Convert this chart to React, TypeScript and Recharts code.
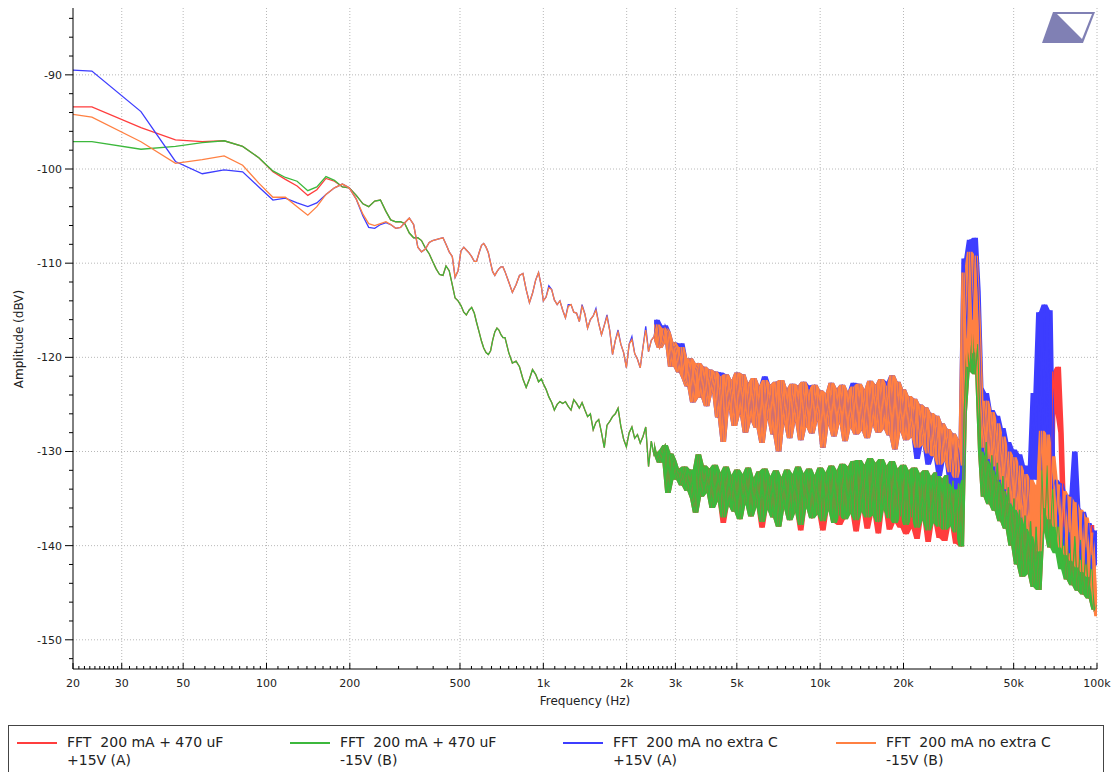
import { Area, CartesianGrid, ComposedChart, Line, XAxis, YAxis } from "recharts";

if (typeof document !== "undefined") document.body.style.margin = "0";

const FONT = "'DejaVu Sans', Verdana, sans-serif";
const COLORS = { red: "#ff3d3d", green: "#3cb83c", blue: "#3d3dff", orange: "#ff8042" };

// FFT bins (Hz): real bins up to ~1 kHz, then thinned log-spaced points to 100 kHz
const FREQ = [
  20, 23.4, 35.2, 46.9, 58.6, 70.3, 82, 93.8, 105.5, 117,
  129, 141, 152, 164, 176, 188, 199, 211, 223, 234,
  246, 258, 270, 281, 293, 305, 316, 328, 340, 352,
  363, 375, 387, 398, 410, 422, 434, 445, 457, 469,
  480, 492, 504, 516, 527, 539, 551, 563, 574, 586,
  598, 609, 621, 633, 645, 656, 668, 680, 691, 703,
  715, 727, 750, 773, 797, 820, 844, 867, 891, 914,
  938, 961, 984,
  1000, 1023, 1047, 1072, 1096, 1122, 1148, 1175, 1202, 1230,
  1259, 1288, 1318, 1349, 1380, 1413, 1445, 1479, 1514, 1549,
  1585, 1622, 1660, 1698, 1738, 1778, 1820, 1862, 1905, 1950,
  1995, 2042, 2089, 2138, 2188, 2239, 2291, 2344, 2399, 2455,
  2512, 2570, 2630, 2692, 2754, 2818, 2884, 2951, 3020, 3090,
  3162, 3236, 3311, 3388, 3467, 3548, 3631, 3715, 3802, 3890,
  3981, 4074, 4169, 4266, 4365, 4467, 4571, 4677, 4786, 4898,
  5012, 5129, 5248, 5370, 5495, 5623, 5754, 5888, 6026, 6166,
  6310, 6457, 6607, 6761, 6918, 7079, 7244, 7413, 7586, 7762,
  7943, 8128, 8318, 8511, 8710, 8913, 9120, 9333, 9550, 9772,
  10000, 10230, 10470, 10720, 10960, 11220, 11480, 11750, 12020, 12300,
  12590, 12880, 13180, 13490, 13800, 14130, 14450, 14790, 15140, 15490,
  15850, 16220, 16600, 16980, 17380, 17780, 18200, 18620, 19050, 19500,
  19950, 20420, 20890, 21380, 21880, 22390, 22910, 23440, 23990, 24550,
  25120, 25700, 26300, 26920, 27540, 28180, 28840, 29510, 30200, 30900,
  31620, 32360, 33110, 33880, 34670, 35480, 36310, 37150, 38020, 38900,
  39810, 40740, 41690, 42660, 43650, 44670, 45710, 46770, 47860, 48980,
  50120, 51290, 52480, 53700, 54950, 56230, 57540, 58880, 60260, 61660,
  63100, 64570, 66070, 67610, 69180, 70790, 72440, 74130, 75860, 77620,
  79430, 81280, 83180, 85110, 87100, 89130, 91200, 93330, 95500, 97720,
  100000,
];

// FFT 200 mA + 470 uF, +15V (A)
const RED = [
  -93.4, -93.4, -95.6, -96.9, -97.1, -97.0, -97.6, -98.8, -100.3, -101.1,
  -101.8, -102.8, -102.2, -101.0, -101.3, -101.9, -102.0, -102.8, -103.7, -104.0,
  -103.4, -103.3, -104.5, -105.4, -105.6, -105.6, -105.8, -106.8, -107.3, -107.3,
  -107.6, -108.4, -109.0, -109.8, -110.6, -111.2, -111.3, -110.3, -110.8, -112.3,
  -113.7, -114.0, -114.5, -115.2, -115.5, -115.0, -114.7, -115.3, -116.3, -117.3,
  -118.3, -119.0, -119.5, -119.7, -119.3, -118.2, -117.3, -116.9, -117.1, -117.6,
  -117.9, -117.9, -119.5, -120.6, -120.4, -121.0, -122.3, -123.2, -122.3, -121.3,
  -121.8, -122.6, -122.3,
  -122.8, -123.4, -124.2, -124.8, -125.6, -125.0, -124.7, -124.9, -124.7, -125.2,
  -125.6, -124.5, -124.9, -125.4, -124.8, -125.6, -126.3, -126.0, -127.7, -126.9,
  -126.6, -128.0, -129.6, -127.2, -126.8, -126.3, -126.0, -125.4, -127.3, -128.7,
  -129.5, -128.0, -127.4, -128.6, -128.2, -129.1, -128.4, -127.4, -131.6, -128.9,
  -130.4, -130.1, -131.2, -129.8, -129.3, -134.4, -130.2, -130.9, -133.0, -131.8,
  -133.6, -131.6, -134.2, -131.9, -135.0, -136.5, -130.3, -134.8, -131.5, -134.4,
  -131.8, -136.0, -131.4, -135.3, -132.2, -137.6, -131.6, -135.8, -132.5, -136.4,
  -131.9, -137.2, -132.4, -135.6, -131.7, -136.9, -132.8, -135.9, -132.1, -138.1,
  -131.8, -136.2, -132.6, -137.0, -132.0, -138.0, -132.7, -136.1, -131.9, -137.3,
  -132.4, -136.5, -131.6, -138.4, -132.3, -136.0, -131.8, -137.1, -132.5, -136.7,
  -131.7, -138.4, -132.2, -136.3, -131.5, -137.6, -132.0, -137.8, -131.3, -137.2,
  -131.6, -136.6, -131.0, -138.5, -130.9, -136.4, -131.4, -138.2, -130.7, -136.8,
  -131.2, -138.7, -130.8, -136.2, -131.5, -138.3, -131.0, -137.6, -131.8, -138.1,
  -131.4, -138.8, -132.0, -138.2, -131.7, -139.3, -132.3, -137.3, -132.0, -139.6,
  -132.6, -137.6, -132.2, -139.2, -132.9, -139.5, -132.5, -137.9, -133.1, -139.8,
  -133.4, -140.1, -126.0, -119.0, -121.5, -117.5, -121.8, -118.6, -130.0, -134.8,
  -129.0, -135.6, -130.4, -136.3, -131.2, -137.4, -132.6, -138.2, -133.8, -140.0,
  -135.0, -142.0, -136.2, -143.3, -136.8, -143.0, -137.4, -144.4, -138.0, -144.7,
  -130.2, -138.5, -131.5, -140.2, -121.5, -126.0, -121.0, -128.0, -138.0, -143.6,
  -138.6, -144.2, -139.0, -144.8, -139.4, -145.2, -140.2, -145.6, -137.8, -146.8,
  -146.3,
];

// FFT 200 mA + 470 uF, -15V (B)
const GREEN = [
  -97.1, -97.1, -97.9, -97.6, -97.2, -97.0, -97.6, -98.8, -100.2, -100.9,
  -101.3, -102.3, -101.9, -100.8, -101.2, -101.9, -102.0, -102.8, -103.7, -104.0,
  -103.4, -103.3, -104.5, -105.4, -105.6, -105.6, -105.8, -106.8, -107.3, -107.3,
  -107.6, -108.4, -109.0, -109.8, -110.6, -111.2, -111.3, -110.3, -110.8, -112.3,
  -113.7, -114.0, -114.5, -115.2, -115.5, -115.0, -114.7, -115.3, -116.3, -117.3,
  -118.3, -119.0, -119.5, -119.7, -119.3, -118.2, -117.3, -116.9, -117.1, -117.6,
  -117.9, -117.9, -119.5, -120.6, -120.4, -121.0, -122.3, -123.2, -122.3, -121.3,
  -121.8, -122.6, -122.3,
  -122.8, -123.4, -124.2, -124.8, -125.6, -125.0, -124.7, -124.9, -124.7, -125.2,
  -125.6, -124.5, -124.9, -125.4, -124.8, -125.6, -126.3, -126.0, -127.7, -126.9,
  -126.6, -128.0, -129.6, -127.2, -126.8, -126.3, -126.0, -125.4, -127.3, -128.7,
  -129.5, -128.0, -127.4, -128.6, -128.2, -129.1, -128.4, -127.4, -131.6, -128.9,
  -130.4, -130.1, -131.2, -129.8, -129.3, -134.4, -130.2, -130.9, -133.0, -131.8,
  -133.6, -131.6, -134.2, -131.9, -135.0, -136.5, -130.3, -134.8, -131.5, -134.4,
  -131.8, -136.0, -131.4, -135.3, -132.2, -137.0, -131.6, -135.8, -132.5, -136.4,
  -131.9, -137.2, -132.4, -135.6, -131.7, -136.9, -132.8, -135.9, -132.1, -137.5,
  -131.8, -136.2, -132.6, -137.0, -132.0, -138.0, -132.7, -136.1, -131.9, -137.3,
  -132.4, -136.5, -131.6, -137.8, -132.3, -136.0, -131.8, -137.1, -132.5, -136.7,
  -131.7, -137.4, -132.2, -136.3, -131.5, -137.6, -132.0, -136.8, -131.3, -137.2,
  -131.6, -136.6, -131.0, -137.3, -130.9, -136.4, -131.4, -137.0, -130.7, -136.8,
  -131.2, -137.5, -130.8, -136.2, -131.5, -137.1, -131.0, -137.6, -131.8, -136.9,
  -131.4, -137.8, -132.0, -137.0, -131.7, -138.1, -132.3, -137.3, -132.0, -138.4,
  -132.6, -137.6, -132.2, -138.0, -132.9, -138.3, -132.5, -137.9, -133.1, -138.6,
  -133.4, -140.1, -126.0, -119.0, -121.5, -117.5, -121.8, -118.6, -130.0, -134.8,
  -129.0, -135.6, -130.4, -136.3, -131.2, -137.4, -132.6, -138.2, -133.8, -140.0,
  -135.0, -142.0, -136.2, -143.3, -136.8, -143.0, -137.4, -144.4, -138.0, -144.7,
  -130.2, -138.5, -131.5, -140.2, -133.0, -140.8, -136.8, -142.5, -138.0, -143.6,
  -138.6, -144.2, -139.0, -144.8, -139.4, -145.2, -140.2, -145.6, -141.0, -146.8,
  -146.3,
];

// FFT 200 mA no extra C, +15V (A)
const BLUE = [
  -89.5, -89.6, -93.9, -99.2, -100.5, -100.1, -100.3, -101.9, -103.3, -103.1,
  -103.6, -104.0, -103.6, -102.7, -102.0, -101.6, -102.0, -103.2, -105.0, -106.2,
  -106.3, -105.9, -105.7, -105.9, -106.3, -106.2, -105.7, -105.2, -105.9, -108.3,
  -108.8, -108.5, -107.8, -107.6, -107.5, -107.4, -107.3, -108.0, -108.8, -109.3,
  -111.5, -110.8, -108.7, -108.3, -108.6, -108.9, -109.3, -109.8, -109.8, -108.9,
  -108.1, -107.9, -108.3, -108.9, -110.0, -110.9, -111.3, -110.9, -110.6, -110.4,
  -110.4, -110.9, -112.0, -113.1, -112.3, -111.3, -111.1, -112.8, -114.2, -113.2,
  -111.8, -111.0, -112.5,
  -114.0, -113.6, -112.4, -112.8, -113.9, -114.4, -114.0, -115.0, -115.8, -114.4,
  -114.4, -115.2, -115.3, -116.2, -114.4, -115.4, -116.9, -116.0, -115.6, -114.8,
  -116.4, -117.6, -116.6, -115.5, -117.2, -119.7, -118.2, -117.1, -118.6, -119.5,
  -121.1, -118.6, -117.8, -119.6, -120.2, -121.1, -118.9, -116.7, -119.4, -118.2,
  -117.8, -116.0, -119.0, -118.5, -116.6, -117.3, -121.0, -118.4, -119.2, -121.6,
  -118.5, -122.3, -123.1, -120.1, -124.8, -121.4, -120.6, -124.3, -121.0, -125.2,
  -121.3, -123.8, -121.5, -126.4, -121.6, -129.0, -121.8, -125.6, -122.4, -127.3,
  -121.6, -126.1, -121.8, -128.0, -122.7, -126.8, -122.2, -127.5, -123.0, -129.1,
  -122.0, -126.6, -122.9, -128.2, -122.6, -130.0, -122.4, -127.1, -123.3, -128.6,
  -122.8, -126.9, -123.0, -128.8, -122.6, -127.4, -123.0, -128.1, -122.9, -126.8,
  -123.5, -129.6, -123.8, -127.2, -122.7, -128.4, -123.3, -127.0, -122.9, -128.9,
  -123.6, -127.5, -122.7, -128.2, -122.8, -127.8, -123.4, -128.6, -122.5, -127.3,
  -122.9, -128.0, -122.3, -127.6, -122.6, -128.3, -121.9, -129.8, -122.6, -127.9,
  -123.4, -128.8, -124.1, -128.5, -124.4, -130.8, -125.0, -129.3, -125.3, -131.4,
  -125.9, -130.5, -126.2, -132.6, -127.0, -131.0, -127.6, -133.4, -128.1, -134.0,
  -128.7, -133.0, -109.5, -118.0, -107.5, -116.0, -107.3, -113.0, -123.2, -130.0,
  -123.8, -131.0, -125.6, -132.0, -126.2, -133.2, -127.5, -134.2, -129.0, -135.5,
  -129.8, -136.2, -130.3, -137.0, -131.5, -138.0, -132.0, -123.8, -133.0, -115.2,
  -132.0, -114.4, -130.0, -115.0, -134.0, -133.0, -138.0, -133.4, -140.0, -134.6,
  -140.8, -135.0, -130.0, -136.0, -141.5, -136.4, -142.0, -137.6, -142.5, -138.4,
  -142.0,
];

// FFT 200 mA no extra C, -15V (B)
const ORANGE = [
  -94.2, -94.5, -97.1, -99.4, -99.0, -98.6, -99.6, -101.5, -103.0, -103.0,
  -104.0, -104.9, -104.0, -102.7, -102.0, -101.6, -102.0, -103.2, -104.8, -105.8,
  -106.0, -105.8, -105.6, -105.9, -106.3, -106.2, -105.7, -105.2, -105.9, -108.3,
  -108.8, -108.5, -107.8, -107.6, -107.5, -107.4, -107.3, -108.0, -108.8, -109.3,
  -111.5, -110.8, -108.7, -108.3, -108.6, -108.9, -109.3, -109.8, -109.8, -108.9,
  -108.1, -107.9, -108.3, -108.9, -110.0, -110.9, -111.3, -110.9, -110.6, -110.4,
  -110.4, -110.9, -112.0, -113.1, -112.3, -111.3, -111.1, -112.8, -114.2, -113.2,
  -111.8, -111.0, -112.5,
  -114.0, -113.6, -112.6, -112.8, -113.9, -114.4, -114.0, -115.0, -115.8, -114.6,
  -114.4, -115.2, -115.3, -116.2, -114.6, -115.4, -116.9, -116.0, -115.6, -115.0,
  -116.4, -117.6, -116.6, -115.7, -117.2, -119.7, -118.2, -117.3, -118.6, -119.5,
  -121.1, -118.6, -118.1, -119.6, -120.2, -121.1, -118.9, -117.1, -119.4, -118.2,
  -117.8, -116.5, -119.0, -118.5, -116.9, -117.3, -121.0, -118.4, -119.2, -121.6,
  -118.9, -122.3, -123.1, -120.1, -124.8, -121.4, -120.6, -124.3, -121.0, -125.2,
  -121.3, -123.8, -121.5, -126.4, -122.0, -129.0, -121.8, -125.6, -122.4, -127.3,
  -121.6, -126.1, -121.8, -128.0, -122.7, -126.8, -122.2, -127.5, -123.0, -129.1,
  -122.4, -126.6, -122.9, -128.2, -122.6, -130.0, -122.4, -127.1, -123.3, -128.6,
  -122.8, -126.9, -123.0, -128.8, -122.6, -127.4, -123.4, -128.1, -122.9, -126.8,
  -123.5, -129.6, -123.8, -127.2, -122.7, -128.4, -123.3, -127.0, -122.9, -128.9,
  -123.6, -127.5, -123.1, -128.2, -122.8, -127.8, -123.4, -128.6, -122.5, -127.3,
  -122.9, -128.0, -122.3, -127.6, -123.0, -128.3, -121.9, -129.8, -122.6, -127.9,
  -123.4, -128.8, -124.1, -128.5, -124.4, -129.6, -125.0, -129.3, -125.3, -130.2,
  -125.9, -130.5, -126.2, -131.4, -127.0, -131.0, -127.6, -132.2, -128.1, -132.8,
  -128.7, -131.5, -111.0, -121.0, -108.8, -119.5, -109.2, -116.0, -124.8, -129.6,
  -124.6, -130.8, -125.8, -131.6, -127.0, -133.0, -128.4, -134.0, -130.0, -135.5,
  -130.6, -136.2, -131.5, -137.0, -132.4, -138.2, -133.0, -139.0, -133.6, -140.6,
  -127.8, -136.0, -128.2, -137.2, -130.5, -138.0, -133.5, -140.2, -134.2, -141.0,
  -134.8, -141.6, -135.4, -142.3, -136.2, -142.8, -137.0, -143.3, -138.6, -145.0,
  -147.5,
];

const X_MAJOR = [20, 30, 50, 100, 200, 500, 1000, 2000, 3000, 5000, 10000, 20000, 50000, 100000];
const X_MINOR = [
  21, 22, 23, 24, 25, 26, 27, 28, 29, 32, 34, 36, 38, 40, 42, 44, 46, 48,
  55, 60, 65, 70, 75, 80, 85, 90, 95, 110, 120, 130, 140, 150, 160, 170, 180, 190,
  250, 300, 350, 400, 450, 550, 600, 650, 700, 750, 800, 850, 900, 950,
  1100, 1200, 1300, 1400, 1500, 1600, 1700, 1800, 1900, 2100, 2200, 2300, 2400, 2500, 2600, 2700, 2800, 2900,
  3200, 3400, 3600, 3800, 4000, 4200, 4400, 4600, 4800, 5500, 6000, 6500, 7000, 7500, 8000, 8500, 9000, 9500,
  11000, 12000, 13000, 14000, 15000, 16000, 17000, 18000, 19000, 25000, 30000, 35000, 40000, 45000,
  55000, 60000, 65000, 70000, 75000, 80000, 85000, 90000, 95000,
];
const X_TICKS = [...X_MAJOR, ...X_MINOR].sort((a, b) => a - b);
const X_GRID = X_MAJOR.slice(1);

const Y_MAJOR = [-150, -140, -130, -120, -110, -100, -90];
const Y_TICKS = [
  -152, -150, -148, -146, -144, -142, -140, -138, -136, -134, -132, -130, -128, -126, -124, -122,
  -120, -118, -116, -114, -112, -110, -108, -106, -104, -102, -100, -98, -96, -94, -92, -90,
  -88, -86, -84,
];

// above this frequency the FFT bins are too dense to resolve: the trace reads as a filled band
const NOISE_FROM = 2500;

const SERIES = [
  { key: "red", vals: RED, l1: "FFT  200 mA + 470 uF", l2: "+15V (A)" },
  { key: "green", vals: GREEN, l1: "FFT  200 mA + 470 uF", l2: "-15V (B)" },
  { key: "blue", vals: BLUE, l1: "FFT  200 mA no extra C", l2: "+15V (A)" },
  { key: "orange", vals: ORANGE, l1: "FFT  200 mA no extra C", l2: "-15V (B)" },
] as const;

// spread of neighbouring bins, used to fill the dense part of each trace
function spread(vals: readonly number[], i: number) {
  if (FREQ[i] < NOISE_FROM) return null;
  const w = [vals[i - 1], vals[i], vals[i + 1]].filter((v) => v !== undefined);
  return [Math.min(...w), Math.max(...w)];
}

const rows = FREQ.map((f, i) => {
  const row: Record<string, any> = { f };
  SERIES.forEach((s) => {
    row[s.key] = s.vals[i];
    row[s.key + "Band"] = spread(s.vals, i);
  });
  return row;
});

function fmtFreq(v: number) {
  return v >= 1000 ? `${v / 1000}k` : `${v}`;
}

function FreqTick({ x, y, payload }: any) {
  const major = X_MAJOR.includes(payload.value);
  return (
    <g>
      <line x1={x} x2={x} y1={y} y2={y - (major ? 6 : 3)} stroke="#000" />
      {major && (
        <text x={x} y={y + 18} textAnchor="middle" fontSize={11} fontFamily={FONT} fill="#222">
          {fmtFreq(payload.value)}
        </text>
      )}
    </g>
  );
}

function AmpTick({ x, y, payload }: any) {
  const major = Y_MAJOR.includes(payload.value);
  return (
    <g>
      <line x1={x} x2={x - (major ? 8 : 4)} y1={y} y2={y} stroke="#000" />
      {major && (
        <text x={x - 11} y={y + 4} textAnchor="end" fontSize={11} fontFamily={FONT} fill="#222">
          {payload.value}
        </text>
      )}
    </g>
  );
}

export default function App() {
  return (
    <div style={{ position: "relative", width: 1111, height: 772, background: "#fff", fontFamily: FONT, overflow: "hidden" }}>
      <ComposedChart width={1111} height={720} data={rows} margin={{ top: 8, right: 14, bottom: 21, left: 13 }}>
        <CartesianGrid stroke="#b8b8b8" strokeDasharray="1 2" horizontalValues={Y_MAJOR} verticalValues={X_GRID} />
        <XAxis
          dataKey="f"
          type="number"
          scale="log"
          domain={[20, 100000]}
          allowDataOverflow
          ticks={X_TICKS}
          interval={0}
          tick={FreqTick}
          tickLine={false}
          tickSize={0}
          tickMargin={0}
          axisLine={{ stroke: "#000" }}
          height={30}
        />
        <YAxis
          type="number"
          domain={[-153.1, -82.9]}
          allowDataOverflow
          ticks={Y_TICKS}
          interval={0}
          tick={AmpTick}
          tickLine={false}
          tickSize={0}
          tickMargin={0}
          axisLine={{ stroke: "#000" }}
          width={60}
        />
        {SERIES.flatMap((s) => [
          <Area
            key={s.key + "Band"}
            dataKey={s.key + "Band"}
            type="linear"
            stroke="none"
            fill={COLORS[s.key]}
            fillOpacity={1}
            dot={false}
            activeDot={false}
            isAnimationActive={false}
          />,
          <Line
            key={s.key}
            dataKey={s.key}
            type="linear"
            stroke={COLORS[s.key]}
            strokeWidth={1.3}
            dot={false}
            activeDot={false}
            isAnimationActive={false}
          />,
        ])}
      </ComposedChart>

      <svg style={{ position: "absolute", left: 0, top: 0 }} width={1111} height={60}>
        <polygon points="1053,12 1095,12 1083,43 1042,43" fill="#8080b4" />
        <polygon points="1057,14 1092,14 1082,39" fill="#fff" />
      </svg>

      <div style={{ position: "absolute", left: 535, top: 694, width: 100, textAlign: "center", fontSize: 12, color: "#222", whiteSpace: "nowrap" }}>
        Frequency (Hz)
      </div>
      <div
        style={{
          position: "absolute",
          left: 19,
          top: 339,
          fontSize: 12,
          color: "#222",
          whiteSpace: "nowrap",
          transform: "translate(-50%, -50%) rotate(-90deg)",
        }}
      >
        Amplitude (dBV)
      </div>

      <div style={{ position: "absolute", left: 8, top: 725, width: 1094, height: 60, border: "1px solid #444" }} />
      {SERIES.map((s, i) => (
        <div key={s.key}>
          <div style={{ position: "absolute", left: 17 + i * 273, top: 742, width: 40, height: 2, background: COLORS[s.key] }} />
          <div style={{ position: "absolute", left: 67 + i * 273, top: 733, fontSize: 14, lineHeight: "18px", color: "#222", whiteSpace: "pre" }}>
            {s.l1}
            {"\n"}
            {s.l2}
          </div>
        </div>
      ))}
    </div>
  );
}
